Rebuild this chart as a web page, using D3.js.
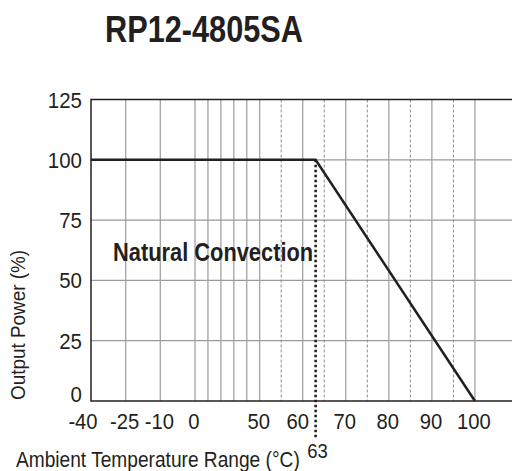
<!DOCTYPE html>
<html>
<head>
<meta charset="utf-8">
<script src="https://cdn.jsdelivr.net/npm/d3@7"></script>
<style>
  body { margin: 0; background: #fff; }
  text { font-family: "Liberation Sans", Arial, sans-serif; fill: #231f20; }
</style>
</head>
<body>
<script>
// chart data
const title = 'RP12-4805SA';
const xTicks = [-40, -25, -10, 0, 50, 60, 70, 80, 90, 100];
const yTicks = [0, 25, 50, 75, 100, 125];
const solidGrid = [-25, -10, 0, 10, 20, 30, 40, 50, 60, 70, 80, 90, 100];
const dashedGrid = [55, 65, 75, 85, 95];
const hGrid = [25, 50, 75, 100];
const deratingTemp = [-40, 63, 100];
const deratingPower = [100, 100, 0];
const markerTemp = 63;

const width = 512, height = 471;

const svg = d3.select('body')
    .append('svg')
    .attr('width', width)
    .attr('height', height);

// x axis is piecewise: equal spacing for the low ticks, compressed 0..50
const x = d3.scaleLinear()
    .domain([-40, -25, -10, 0, 50, 60, 110])
    .range([91, 125.7, 160.3, 195, 259.7, 302.7, 518]);

const y = d3.scaleLinear()
    .domain([0, 125])
    .range([401, 99.5]);

const plotTop = y(125), plotBottom = y(0), plotLeft = x(-40), plotRight = x(110);

// no condensed font installed, so squeeze the text horizontally
function label(parent, tx, ty, str, size, sx, anchor, weight, rot) {
    return parent.append('text')
        .attr('transform', `translate(${tx},${ty})${rot ? ' rotate(' + rot + ')' : ''} scale(${sx},1)`)
        .attr('text-anchor', anchor || 'start')
        .attr('font-size', size)
        .attr('font-weight', weight || 'normal')
        .text(str);
}

// grid
svg.append('g').selectAll('line')
    .data(hGrid)
    .join('line')
    .attr('x1', plotLeft).attr('x2', plotRight)
    .attr('y1', d => y(d)).attr('y2', d => y(d))
    .attr('stroke', '#9a9a9a')
    .attr('stroke-width', 1.3);

svg.append('g').selectAll('line')
    .data(solidGrid)
    .join('line')
    .attr('x1', d => x(d)).attr('x2', d => x(d))
    .attr('y1', plotTop).attr('y2', plotBottom)
    .attr('stroke', '#a3a3a3')
    .attr('stroke-width', 1.3);

svg.append('g').selectAll('line')
    .data(dashedGrid)
    .join('line')
    .attr('x1', d => x(d)).attr('x2', d => x(d))
    .attr('y1', plotTop).attr('y2', plotBottom)
    .attr('stroke', '#8a8a8a')
    .attr('stroke-width', 1)
    .attr('stroke-dasharray', '3,2');

// frame: top, left, bottom
svg.append('path')
    .attr('d', `M${plotRight},${plotTop} H${plotLeft} V${plotBottom} H${plotRight}`)
    .attr('fill', 'none')
    .attr('stroke', '#231f20')
    .attr('stroke-width', 1.5);

// derating curve
const pts = deratingTemp.map((t, i) => [x(t), y(deratingPower[i])]);
svg.append('path')
    .attr('d', d3.line()(pts))
    .attr('fill', 'none')
    .attr('stroke', '#231f20')
    .attr('stroke-width', 2.5);

// dotted marker at 63
svg.append('line')
    .attr('x1', x(markerTemp)).attr('x2', x(markerTemp))
    .attr('y1', y(100)).attr('y2', 438)
    .attr('stroke', '#231f20')
    .attr('stroke-width', 2.6)
    .attr('stroke-dasharray', '2.5,2.5');

label(svg, x(markerTemp) + 2, 458, markerTemp, 21, 0.88, 'middle');

// tick labels
const yLab = svg.append('g');
yTicks.forEach(d => {
    label(yLab, 82, d === 0 ? 402 : y(d) + 8, d, 22, 0.93, 'end');
});

const xLab = svg.append('g');
xTicks.forEach(d => {
    const off = d === -40 ? -8 : d === 60 ? -5 : -1;
    label(xLab, x(d) + off, 429, d, 22, 0.92, 'middle');
});

// titles
label(svg, 105, 42, title, 37, 0.83, 'start', 'bold');
label(svg, 16, 467, 'Ambient Temperature Range (°C)', 22, 0.87, 'start');
label(svg, 25, 325, 'Output Power (%)', 21, 0.9, 'middle', 'normal', -90);
label(svg, 113, 261, 'Natural Convection', 26, 0.84, 'start', 'bold');
</script>
</body>
</html>
